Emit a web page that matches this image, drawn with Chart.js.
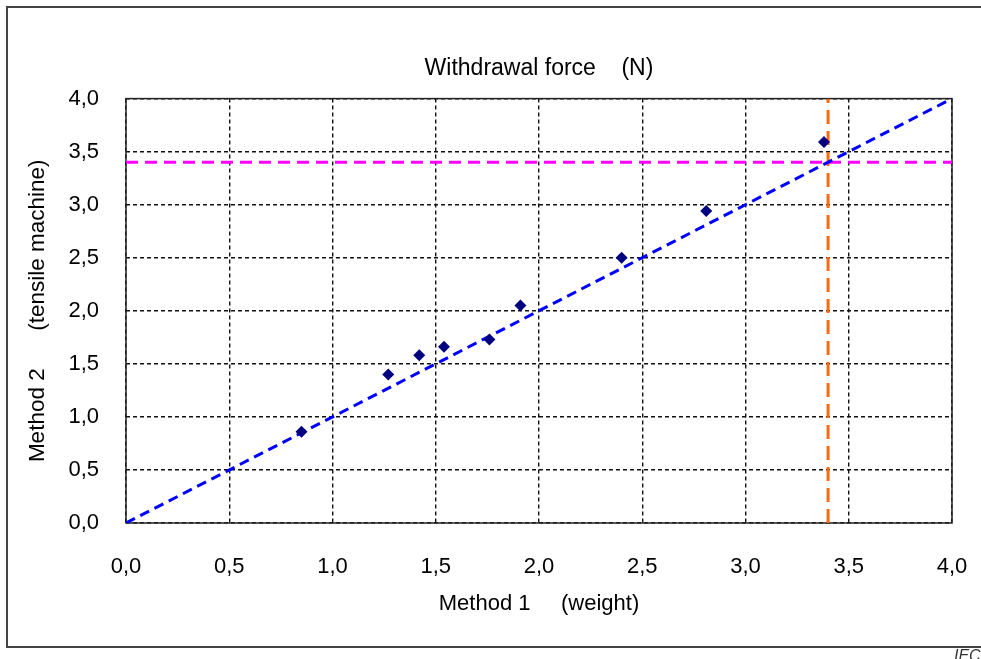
<!DOCTYPE html>
<html>
<head>
<meta charset="utf-8">
<script src="https://cdn.jsdelivr.net/npm/chart.js@4.4.1/dist/chart.umd.min.js"></script>
<style>
html,body{margin:0;padding:0;background:#fff;overflow:hidden}
#wrap{position:relative;width:981px;height:659px;overflow:hidden}
#chart{position:absolute;left:0;top:0}
#frame{position:absolute;left:6px;top:6px;width:1000px;height:638px;border:2px solid #444;border-right:none}
#iec{position:absolute;left:954px;top:648px;font:italic 16px Arial,"Liberation Sans",sans-serif;color:#333;line-height:1}
</style>
</head>
<body>
<div id="wrap">
  <div id="frame"></div>
  <canvas id="chart" width="981" height="659"></canvas>
  <div id="iec">IEC</div>
</div>
<script>
  // measured withdrawal force, N
  const weightMethod=[0.85,1.27,1.42,1.54,1.76,1.91,2.40,2.81,3.38];
  const tensileMethod=[0.86,1.40,1.58,1.66,1.73,2.05,2.50,2.94,3.59];
  // y = x reference line ends
  const equalityX=[0,4];
  const equalityY=[0,4];
  // limit value marked on both axes
  const limitForce=3.4;
  const axisTicks=[0,0.5,1,1.5,2,2.5,3,3.5,4];

  const FONT='Arial, "Liberation Sans", sans-serif';
  const fmt=v=>Number(v).toFixed(1).replace('.',',');

  const plotBorder={
    id:'plotBorder',
    beforeDatasetsDraw(chart){
      const {ctx,chartArea:a}=chart;
      ctx.save();
      ctx.strokeStyle='#222';
      ctx.lineWidth=1.5;
      ctx.strokeRect(a.left,a.top,a.right-a.left,a.bottom-a.top);
      ctx.restore();
    }
  };

  function useTicks(scale){
    scale.ticks=axisTicks.map(v=>({value:v}));
  }

  new Chart(document.getElementById('chart'),{
    type:'scatter',
    data:{
      datasets:[
        {
          label:'Measured',
          data:weightMethod.map((x,i)=>({x,y:tensileMethod[i]})),
          pointStyle:'rectRot',
          pointRadius:6,
          pointBackgroundColor:'#000080',
          pointBorderColor:'#000080',
          pointBorderWidth:0,
          showLine:false,
          order:0
        },
        {
          label:'y = x',
          data:equalityX.map((x,i)=>({x,y:equalityY[i]})),
          showLine:true,
          borderColor:'#0000ff',
          borderWidth:3,
          borderDash:[10,6],
          pointRadius:0,
          order:1
        },
        {
          label:'limit y',
          data:equalityX.map(x=>({x,y:limitForce})),
          showLine:true,
          borderColor:'#ff00ff',
          borderWidth:3,
          borderDash:[12,7],
          pointRadius:0,
          order:2
        },
        {
          label:'limit x',
          data:equalityY.map(y=>({x:limitForce,y})),
          showLine:true,
          borderColor:'#ff6a10',
          borderWidth:3,
          borderDash:[14,7],
          pointRadius:0,
          order:3
        }
      ]
    },
    options:{
      responsive:false,
      animation:false,
      events:[],
      layout:{padding:{left:0,right:29,top:0,bottom:0}},
      plugins:{
        legend:{display:false},
        tooltip:{enabled:false},
        title:{
          display:true,
          fullSize:false,
          text:'Withdrawal force    (N)',
          color:'#000',
          font:{family:FONT,size:23,weight:'normal'},
          padding:{top:55,bottom:16}
        }
      },
      scales:{
        x:{
          type:'linear',
          min:0,max:4,
          afterBuildTicks:useTicks,
          afterFit(scale){scale.height=136;scale.paddingLeft=0;scale.paddingRight=0;},
          grid:{color:'#111',lineWidth:1.4,drawTicks:false},
          border:{display:false,dash:[4,3]},
          ticks:{color:'#000',font:{family:FONT,size:22},padding:31,maxRotation:0,autoSkip:false,callback:fmt},
          title:{display:true,text:'Method 1     (weight)',color:'#000',font:{family:FONT,size:22},padding:{top:0,bottom:42}}
        },
        y:{
          type:'linear',
          min:0,max:4,
          afterBuildTicks:useTicks,
          afterFit(scale){scale.width=126;},
          grid:{color:'#111',lineWidth:1.4,drawTicks:false},
          border:{display:false,dash:[4,3]},
          ticks:{color:'#000',font:{family:FONT,size:22},padding:27,autoSkip:false,callback:fmt},
          title:{display:true,text:'Method 2      (tensile machine)',color:'#000',font:{family:FONT,size:22.5},padding:{top:24,bottom:0}}
        }
      }
    },
    plugins:[plotBorder]
  });
</script>
</body>
</html>
